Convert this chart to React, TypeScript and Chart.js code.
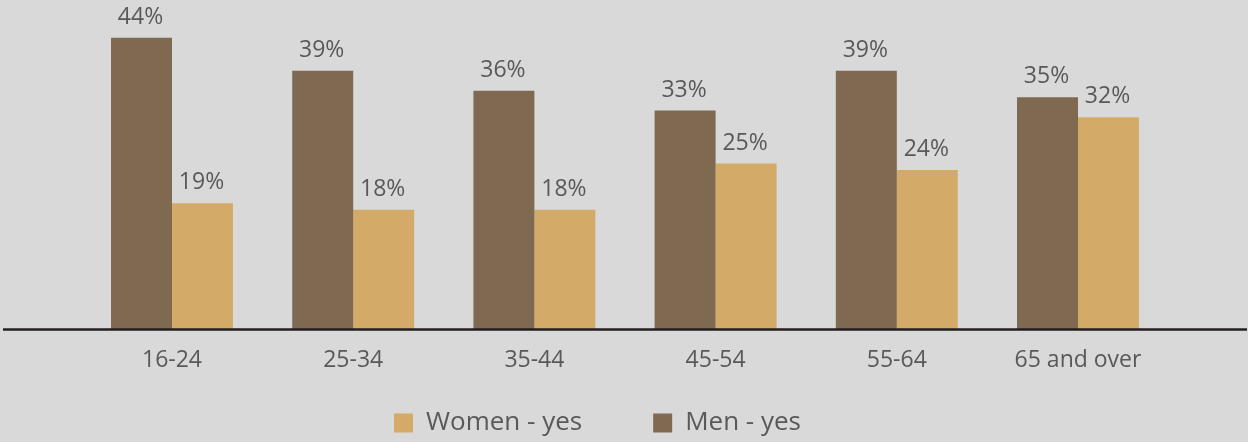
import { useEffect, useRef } from "react";
import { Chart, registerables } from "chart.js";

Chart.register(...registerables);

const categories = ["16-24", "25-34", "35-44", "45-54", "55-64", "65 and over"];
const menYes = [44, 39, 36, 33, 39, 35];
const womenYes = [19, 18, 18, 25, 24, 32];
const menLabel = "Men - yes";
const womenLabel = "Women - yes";

const FONT = "'Open Sans', 'DejaVu Sans', sans-serif";
const TEXT = "#595959";
const CANVAS_H = 446;
const LEGEND_FONT = 26;
const LEGEND_PAD = 71;
const BASE_Y = 329;

export default function App() {
  const ref = useRef<HTMLCanvasElement>(null);

  useEffect(() => {
    if (!ref.current) return;
    Chart.defaults.font.family = FONT;

    const valueLabels = {
      id: "valueLabels",
      afterDatasetsDraw(chart: any) {
        const ctx = chart.ctx;
        ctx.save();
        ctx.font = `23px ${FONT}`;
        ctx.fillStyle = TEXT;
        ctx.textAlign = "center";
        ctx.textBaseline = "alphabetic";
        chart.data.datasets.forEach((ds: any, i: number) => {
          const meta = chart.getDatasetMeta(i);
          meta.data.forEach((bar: any, j: number) => {
            ctx.fillText(`${ds.data[j]}%`, bar.x - 1, bar.y - 14);
          });
        });
        ctx.restore();
      },
    };

    const baseLine = {
      id: "baseLine",
      afterDatasetsDraw(chart: any) {
        const ctx = chart.ctx;
        const y = chart.scales.y.getPixelForValue(0) + 0.5;
        ctx.save();
        ctx.strokeStyle = "#231f20";
        ctx.lineWidth = 2.5;
        ctx.beginPath();
        ctx.moveTo(3, y);
        ctx.lineTo(1247, y);
        ctx.stroke();
        ctx.restore();
      },
    };

    const legendHeight = LEGEND_FONT + LEGEND_PAD + 10;

    const chart = new Chart(ref.current, {
      type: "bar",
      data: {
        labels: categories,
        datasets: [
          {
            label: menLabel,
            data: menYes,
            backgroundColor: "#7f6950",
            borderWidth: 0,
            categoryPercentage: 0.673,
            barPercentage: 1,
          },
          {
            label: womenLabel,
            data: womenYes,
            backgroundColor: "#d3aa68",
            borderWidth: 0,
            categoryPercentage: 0.673,
            barPercentage: 1,
          },
        ],
      },
      options: {
        responsive: false,
        animation: false,
        devicePixelRatio: 1,
        layout: { padding: { left: 0, right: 53, top: 31.1, bottom: 0 } },
        plugins: {
          legend: {
            position: "bottom",
            reverse: true,
            labels: {
              boxWidth: 19,
              boxHeight: 19,
              padding: LEGEND_PAD,
              color: TEXT,
              font: { size: LEGEND_FONT, family: FONT },
            },
          },
          tooltip: { enabled: false },
        },
        scales: {
          x: {
            grid: { display: false, drawTicks: false },
            border: { display: false },
            ticks: {
              color: TEXT,
              font: { size: 23, family: FONT },
              padding: 18,
              maxRotation: 0,
              autoSkip: false,
            },
            afterFit: (s: any) => {
              s.height = CANVAS_H - legendHeight - BASE_Y;
              // let tick labels extend below the (short) axis box
              s._computeLabelArea = () => undefined;
            },
          },
          y: {
            min: 0,
            max: 45,
            display: true,
            grid: { display: false, drawTicks: false },
            border: { display: false },
            ticks: { display: false },
            afterFit: (s: any) => {
              s.width = 81.4;
            },
          },
          y2: {
            position: "right",
            display: true,
            grid: { display: false, drawTicks: false },
            border: { display: false },
            ticks: { display: false },
            afterFit: (s: any) => {
              s.width = 26.4;
            },
          },
        },
      },
      plugins: [valueLabels, baseLine],
    } as any);

    return () => chart.destroy();
  }, []);

  return (
    <div
      style={{
        position: "fixed",
        left: 0,
        top: 0,
        width: 1248,
        height: 442,
        overflow: "hidden",
        background: "#d9d9d9",
      }}
    >
      <canvas ref={ref} width={1248} height={CANVAS_H} style={{ display: "block" }} />
    </div>
  );
}
